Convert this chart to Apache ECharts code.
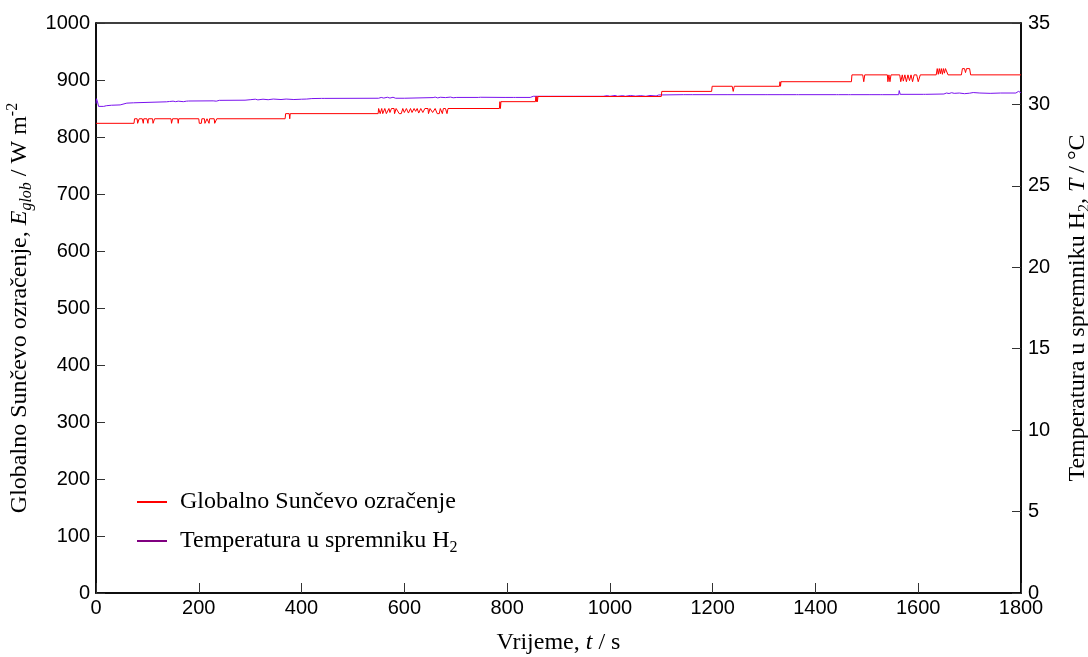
<!DOCTYPE html>
<html><head><meta charset="utf-8">
<script src="https://cdn.jsdelivr.net/npm/echarts@6/dist/echarts.min.js"></script>
<style>html,body{margin:0;padding:0;background:#fff}#c{width:1088px;height:657px}</style>
</head><body><div id="c"></div>
<script>
// Global solar irradiance, W m^-2 : [time s, value]
const irradiance = [[0,824],[74,824],[75,832],[80,832],[81,824],[83,824],[84,832],[90,832],[92,824],[93,832],[99,832],[101,824],[102,832],[110,832],[111,824],[113,824],[114,832],[146,832],[147,824],[149,832],[159,832],[160,824],[161,832],[200,832],[201,824],[205,824],[206,832],[211,832],[212,824],[215,824],[216,832],[219,832],[220,824],[221,832],[230,832],[231,824],[234,824],[235,832],
[368,832],[369,841],[376,841],[377,832],[378,841],
[549,841],[550,850],[552,850],[553,841],[556,850],[558,841],[562,850],[565,841],[570,850],[572,843],[575,850],[580,850],[581,841],[584,850],[590,841],[594,841],[597,850],[600,843],[604,850],[608,842],[612,850],[615,843],[619,850],[622,845],[625,850],[628,842],[632,850],[636,843],[640,850],[646,850],[647,841],[650,850],[655,843],[660,850],[664,841],[668,841],[670,850],[674,841],[676,850],[680,850],[683,841],[685,850],
[785,850],[786,862],[787,850],[788,862],
[855,862],[856,871],[857,862],[858,871],[859,862],[860,871],
[1100,871],[1101,880],[1198,880],[1199,889],[1238,889],[1240,880],[1242,889],[1330,889],[1331,897],[1332,889],[1333,897],[1470,897],[1471,909],[1492,909],[1494,897],[1496,909],[1540,909],[1541,897],[1543,909],[1545,897],[1547,909],[1564,909],[1566,897],[1569,909],[1571,898],[1574,909],[1577,897],[1580,909],[1583,899],[1586,909],[1589,897],[1592,909],[1597,909],[1600,897],[1604,909],[1607,909],
[1635,909],[1637,920],[1639,910],[1641,920],[1643,911],[1645,920],[1647,910],[1649,920],[1651,912],[1653,920],[1656,920],[1658,909],[1684,909],[1686,920],[1690,920],[1692,913],[1694,920],[1700,920],[1702,909],[1800,909]];

// Temperature in H2 tank, °C : [time s, value]
const temperature = [[0,30.05],[1,30.35],[3,30.15],[5,29.88],[15,29.88],[20,29.92],[30,29.95],[47,29.97],[50,30.05],[60,30.08],[73,30.1],[75,30.15],[137,30.16],[139,30.21],[143,30.18],[150,30.2],[155,30.17],[160,30.2],[170,30.17],[176,30.2],[180,30.21],[228,30.22],[231,30.27],[234,30.2],[240,30.25],[290,30.26],[293,30.3],[300,30.29],[310,30.32],[315,30.28],[325,30.32],[335,30.29],[345,30.33],[360,30.3],[370,30.33],[385,30.3],[400,30.32],[410,30.33],[420,30.36],[439,30.37],[441,30.42],[444,30.37],[550,30.38],[555,30.43],[560,30.39],[567,30.44],[572,30.39],[578,30.44],[583,30.38],[600,30.38],[656,30.42],[660,30.45],[665,30.4],[670,30.44],[680,30.42],[690,30.45],[695,30.41],[702,30.43],[744,30.43],[746,30.38],[748,30.44],[792,30.43],[794,30.47],[796,30.43],[812,30.43],[814,30.46],[816,30.43],[845,30.43],[848,30.47],[851,30.5],[880,30.5],[882,30.54],[884,30.5],[929,30.5],[931,30.55],[933,30.5],[981,30.5],[984,30.56],[987,30.5],[995,30.54],[1000,30.5],[1010,30.55],[1015,30.5],[1025,30.54],[1030,30.5],[1040,30.55],[1050,30.51],[1060,30.54],[1070,30.5],[1078,30.55],[1090,30.52],[1095,30.58],[1097,30.6],[1143,30.6],[1145,30.64],[1148,30.6],[1156,30.6],[1158,30.64],[1161,30.6],[1224,30.6],[1226,30.64],[1228,30.6],[1302,30.6],[1304,30.64],[1306,30.6],[1331,30.6],[1333,30.65],[1335,30.6],[1363,30.6],[1365,30.64],[1367,30.6],[1441,30.6],[1443,30.64],[1445,30.6],[1464,30.6],[1466,30.64],[1468,30.6],[1506,30.6],[1508,30.65],[1510,30.6],[1526,30.6],[1528,30.65],[1530,30.6],[1562,30.6],[1563,30.85],[1565,30.62],[1610,30.62],[1612,30.66],[1614,30.62],[1650,30.64],[1655,30.7],[1660,30.67],[1665,30.72],[1670,30.68],[1680,30.7],[1690,30.66],[1700,30.69],[1707,30.73],[1710,30.68],[1720,30.7],[1740,30.68],[1760,30.7],[1790,30.7],[1795,30.8],[1800,30.72]];

const seriesNames = ['Globalno Sunčevo ozračenje', 'Temperatura u spremniku H2'];
const xTicks = {min:0, max:1800, interval:200};
const yLeftTicks = {min:0, max:1000, interval:100};
const yRightTicks = {min:0, max:35, interval:5};

const serif = '"Liberation Serif","Times New Roman",serif';
const sans = '"Liberation Sans",Arial,sans-serif';
const titleRich = {
  n:{fontFamily:serif,fontSize:24,color:'#000',lineHeight:30,verticalAlign:'middle'},
  i:{fontFamily:serif,fontSize:24,color:'#000',fontStyle:'italic',lineHeight:30,verticalAlign:'middle'},
  sub:{fontFamily:serif,fontSize:16,color:'#000',fontStyle:'italic',lineHeight:30,verticalAlign:'bottom'},
  subn:{fontFamily:serif,fontSize:16,color:'#000',lineHeight:30,verticalAlign:'bottom'},
  sup:{fontFamily:serif,fontSize:16,color:'#000',lineHeight:30,verticalAlign:'top'}
};
const plain = function(v){return String(v);};
const axisCommon = {
  axisLine:{show:true,lineStyle:{color:'#000',width:1.5}},
  axisTick:{show:true,inside:true,length:9,lineStyle:{color:'#333',width:1}},
  axisLabel:{fontFamily:sans,fontSize:20,color:'#000',formatter:plain},
  splitLine:{show:false}
};
const chart = echarts.init(document.getElementById('c'));
chart.setOption({
  animation:false,
  backgroundColor:'#fff',
  grid:{left:96,right:67,top:23,bottom:64,containLabel:false,outerBoundsMode:'none',show:true,borderColor:'#000',borderWidth:1.5},
  legend:{
    orient:'vertical',left:132,top:485,itemGap:15,itemWidth:30,itemHeight:2,icon:'rect',
    data:[{name:seriesNames[0],itemStyle:{color:'#ff0000'}},{name:seriesNames[1],itemStyle:{color:'#800080'}}],
    formatter:function(n){return n===seriesNames[1]?'{n|Temperatura u spremniku H}{subn|2}':'{n|'+n+'}';},
    textStyle:{rich:titleRich,padding:[0,0,0,8]}
  },
  xAxis:Object.assign({},axisCommon,{type:'value',min:xTicks.min,max:xTicks.max,interval:xTicks.interval,
    axisLabel:Object.assign({},axisCommon.axisLabel,{margin:5}),
    axisTick:{show:true,inside:true,length:10,lineStyle:{color:'#333'}},
    name:'{n|Vrijeme, }{i|t}{n| / s}',nameLocation:'middle',nameGap:35,nameTextStyle:{rich:titleRich}}),
  yAxis:[
    Object.assign({},axisCommon,{type:'value',min:yLeftTicks.min,max:yLeftTicks.max,interval:yLeftTicks.interval,position:'left',
      axisLabel:Object.assign({},axisCommon.axisLabel,{margin:6}),
      name:'{n|Globalno Sunčevo ozračenje, }{i|E}{sub|glob}{n| / W m}{sup|-2}',nameLocation:'middle',nameGap:45,nameRotate:90,nameTextStyle:{rich:titleRich}}),
    Object.assign({},axisCommon,{type:'value',min:yRightTicks.min,max:yRightTicks.max,interval:yRightTicks.interval,position:'right',
      axisLabel:Object.assign({},axisCommon.axisLabel,{margin:7}),
      name:'{n|Temperatura u spremniku H}{subn|2}{n|, }{i|T}{n| / °C}',nameLocation:'middle',nameGap:42,nameRotate:90,nameTextStyle:{rich:titleRich}})
  ],
  series:[
    {name:seriesNames[0],type:'line',yAxisIndex:0,data:irradiance,showSymbol:false,symbol:'none',lineStyle:{color:'#ff0000',width:1},itemStyle:{color:'#ff0000'},z:3},
    {name:seriesNames[1],type:'line',yAxisIndex:1,data:temperature,showSymbol:false,symbol:'none',lineStyle:{color:'#7a12ee',width:1},itemStyle:{color:'#800080'},z:2}
  ]
});
</script></body></html>
